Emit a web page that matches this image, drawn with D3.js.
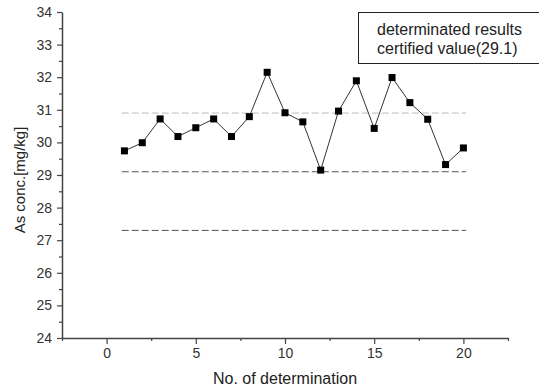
<!DOCTYPE html>
<meta charset="utf-8">
<head>
    <script src="https://cdn.jsdelivr.net/npm/d3@7"></script>
    <style>
        body { margin: 0; background: #fff; }
        text { font-family: Arial, "Liberation Sans", sans-serif; fill: #222; }
    </style>
    <title>As concentration determinations</title>
</head>
<body>
<div id="chart"></div>
<script>
    // data
    var runs = d3.range(1, 21);
    var conc = [29.74, 29.99, 30.72, 30.18, 30.45, 30.72, 30.18, 30.79, 32.15, 30.91,
                30.63, 29.15, 30.96, 31.89, 30.43, 31.99, 31.22, 30.71, 29.32, 29.83];
    var certified = 29.1;
    var upperLimit = 30.9;
    var lowerLimit = 27.3;
    var xTicks = [0, 5, 10, 15, 20];
    var yTicks = [24, 25, 26, 27, 28, 29, 30, 31, 32, 33, 34];
    var legendLines = ["determinated results", "certified value(29.1)"];

    var width = 539, height = 391;
    var margin = {top: 12, right: 31, bottom: 53, left: 62};

    var svg = d3.select("#chart").append("svg")
        .attr("width", width)
        .attr("height", height);

    var x = d3.scaleLinear().domain([-2.5, 22.5]).range([margin.left, width - margin.right]);
    var y = d3.scaleLinear().domain([24, 34]).range([height - margin.bottom, margin.top]);

    // reference lines
    function refLine(v, color) {
        svg.append("line")
            .attr("x1", x(0.85)).attr("x2", x(20.15))
            .attr("y1", y(v)).attr("y2", y(v))
            .style("stroke", color)
            .style("stroke-width", 1)
            .style("stroke-dasharray", "7,3");
    }
    refLine(upperLimit, "#bbb");
    refLine(certified, "#555");
    refLine(lowerLimit, "#555");

    // axes
    var yAxis = d3.axisLeft(y).tickValues(yTicks).tickSize(5).tickSizeOuter(0).tickPadding(5);
    var yMinor = d3.axisLeft(y).tickValues(d3.range(24.5, 34, 1)).tickSize(3).tickFormat("");
    var xAxis = d3.axisBottom(x).tickValues(xTicks).tickSize(6).tickSizeOuter(0).tickPadding(4);
    var xMinor = d3.axisBottom(x).tickValues([-2.5, 2.5, 7.5, 12.5, 17.5, 22.5]).tickSize(3).tickFormat("");

    var gy = svg.append("g").attr("transform", "translate(" + margin.left + ",0)");
    gy.call(yAxis);
    svg.append("g").attr("transform", "translate(" + margin.left + ",0)").call(yMinor)
        .select(".domain").remove();

    var gx = svg.append("g").attr("transform", "translate(0," + (height - margin.bottom) + ")");
    gx.call(xAxis);
    svg.append("g").attr("transform", "translate(0," + (height - margin.bottom) + ")").call(xMinor)
        .select(".domain").remove();

    svg.selectAll(".domain").style("stroke", "#444").style("stroke-width", 1.5);
    svg.selectAll(".tick line").style("stroke", "#444").style("stroke-width", 1.2);
    svg.selectAll(".tick text").style("font-size", "14px").style("fill", "#333");

    // axis titles
    svg.append("text")
        .attr("x", (margin.left + width - margin.right) / 2)
        .attr("y", 384)
        .attr("text-anchor", "middle")
        .style("font-size", "16px")
        .text("No. of determination");

    svg.append("text")
        .attr("transform", "translate(25,180) rotate(-90)")
        .attr("text-anchor", "middle")
        .style("font-size", "15px")
        .text("As conc.[mg/kg]");

    // data line + markers
    var line = d3.line()
        .x(function (d, i) { return x(runs[i]); })
        .y(function (d) { return y(d); });

    svg.append("path")
        .datum(conc)
        .attr("d", line)
        .style("fill", "none")
        .style("stroke", "#333")
        .style("stroke-width", 1);

    svg.selectAll("rect.pt")
        .data(conc)
        .enter()
        .append("rect")
        .attr("class", "pt")
        .attr("x", function (d, i) { return x(runs[i]) - 3.5; })
        .attr("y", function (d) { return y(d) - 3.5; })
        .attr("width", 7)
        .attr("height", 7)
        .style("fill", "#000");

    // legend box
    svg.append("rect")
        .attr("x", 358.5).attr("y", 12.5)
        .attr("width", 190).attr("height", 51)
        .style("fill", "#fff")
        .style("stroke", "#222")
        .style("stroke-width", 1);

    svg.selectAll("text.leg")
        .data(legendLines)
        .enter()
        .append("text")
        .attr("class", "leg")
        .attr("x", 377)
        .attr("y", function (d, i) { return 35 + i * 19; })
        .style("font-size", "16px")
        .text(function (d) { return d; });
</script>
</body>
</html>
